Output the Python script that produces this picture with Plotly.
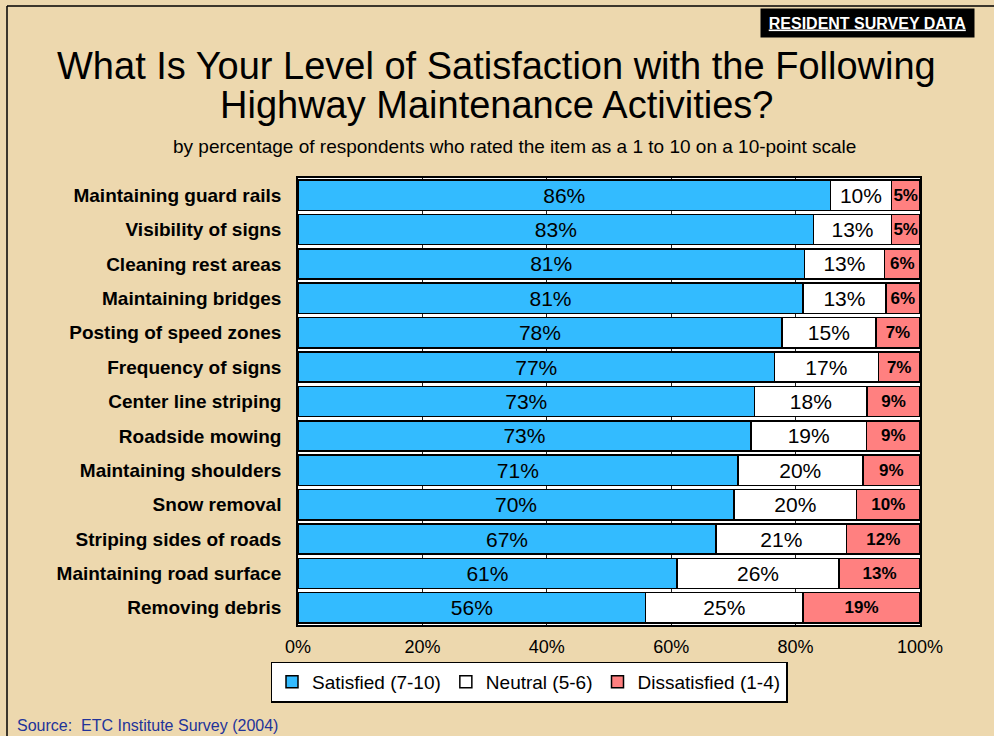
import plotly.graph_objects as go

categories = [
    "Maintaining guard rails", "Visibility of signs", "Cleaning rest areas",
    "Maintaining bridges", "Posting of speed zones", "Frequency of signs",
    "Center line striping", "Roadside mowing", "Maintaining shoulders",
    "Snow removal", "Striping sides of roads", "Maintaining road surface",
    "Removing debris",
]
satisfied = [85.6, 82.9, 81.4, 81.2, 77.8, 76.6, 73.4, 72.8, 70.7, 70.1, 67.2, 60.9, 55.9]
neutral = [9.8, 12.5, 12.9, 13.3, 15.1, 16.7, 18.1, 18.6, 20.1, 19.7, 21.0, 26.1, 25.3]
dissatisfied = [4.6, 4.6, 5.7, 5.5, 7.1, 6.7, 8.5, 8.6, 9.2, 10.2, 11.8, 13.0, 18.8]
series_names = ["Satisfied (7-10)", "Neutral (5-6)", "Dissatisfied (1-4)"]
x_ticks = [0, 20, 40, 60, 80, 100]
x_tick_labels = ["0%", "20%", "40%", "60%", "80%", "100%"]

W, H = 994, 736
L, R, T, B = 298, 920, 178, 625

def px(x):
    return (x - L) / (R - L)

def py(y):
    return (B - y) / (B - T)

fig = go.Figure()
colors = ["#33BBFF", "#FFFFFF", "#FF8080"]
fonts = [dict(family="Arial", size=21, color="black"),
         dict(family="Arial", size=21, color="black"),
         dict(family="Arial", size=17, color="black", weight="bold")]
for name, vals, col, fnt in zip(series_names, [satisfied, neutral, dissatisfied], colors, fonts):
    fig.add_trace(go.Bar(
        y=categories, x=vals, name=name, orientation="h",
        marker=dict(color=col, line=dict(color="black", width=1.5)),
        texttemplate="%{x:.0f}%", textposition="inside", insidetextanchor="middle",
        constraintext="none", textangle=0, insidetextfont=fnt,
        hoverinfo="skip",
    ))

fig.update_layout(
    width=W, height=H, barmode="stack", bargap=0.12,
    paper_bgcolor="#EDD8AE", plot_bgcolor="white",
    margin=dict(l=L, r=W - R, t=T, b=H - B, pad=0),
    font=dict(family="Arial", color="black"),
    showlegend=True,
    legend=dict(orientation="h", x=px(529), xanchor="center", y=py(682), yanchor="middle",
                bgcolor="white", bordercolor="black", borderwidth=1.5,
                font=dict(family="Arial", size=19, color="black"),
                itemwidth=30, tracegroupgap=0, traceorder="normal"),
    xaxis=dict(range=[0, 100], tickvals=x_ticks, ticktext=x_tick_labels,
               showgrid=True, gridcolor="#222222", gridwidth=1, zeroline=False,
               showline=True, linecolor="black", linewidth=1.5, mirror=True,
               ticks="", ticklabelstandoff=5,
               tickfont=dict(family="Arial", size=18, color="black"), fixedrange=True),
    yaxis=dict(autorange="reversed", showgrid=False, showline=True, linecolor="black",
               linewidth=1.5, mirror=True, ticks="", ticklabelstandoff=11,
               tickfont=dict(family="Arial", size=19, color="black", weight="bold")),
)

annotations = [
    dict(text="What Is Your Level of Satisfaction with the Following",
         x=px(496), y=py(66), xanchor="center", yanchor="middle", showarrow=False,
         font=dict(family="Arial", size=38, color="black")),
    dict(text="Highway Maintenance Activities?",
         x=px(496), y=py(105), xanchor="center", yanchor="middle", showarrow=False,
         font=dict(family="Arial", size=38, color="black")),
    dict(text="by percentage of respondents who rated the item as a 1 to 10 on a 10-point scale",
         x=px(514), y=py(146), xanchor="center", yanchor="middle", showarrow=False,
         font=dict(family="Arial", size=19, color="black")),
    dict(text="<u>RESIDENT SURVEY DATA</u>", x=px(867.5), y=py(23), xanchor="center", yanchor="middle",
         showarrow=False, bgcolor="black", borderpad=3, width=207, height=22,
         font=dict(family="Arial", size=16, color="white", weight="bold")),
    dict(text="Source:  ETC Institute Survey (2004)", x=px(15), y=py(725), xanchor="left",
         yanchor="middle", showarrow=False,
         font=dict(family="Arial", size=16, color="#22339A")),
]
for a in annotations:
    a["xref"] = "paper"
    a["yref"] = "paper"
fig.update_layout(annotations=annotations)

fig.add_shape(type="line", xref="paper", yref="paper", x0=px(7), x1=px(994), y0=py(6), y1=py(6),
              line=dict(color="black", width=1.5))
fig.add_shape(type="line", xref="paper", yref="paper", x0=px(7), x1=px(7), y0=py(6), y1=py(736),
              line=dict(color="black", width=1.5))

fig.write_html("out.html", config={"displayModeBar": False},
               post_script="document.body.style.margin='0';document.body.style.overflow='hidden';")
